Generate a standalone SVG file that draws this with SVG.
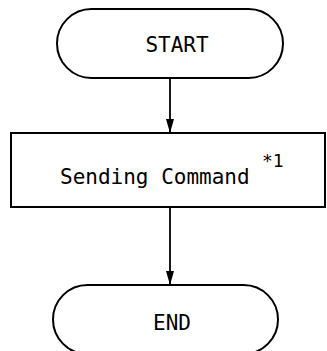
<svg xmlns="http://www.w3.org/2000/svg" width="327" height="351" viewBox="0 0 327 351">
<style>
.shape{fill:#fff;stroke:#000;stroke-width:2}
.t{font-family:"DejaVu Sans Mono","Liberation Mono",monospace;font-size:21px;fill:#000}
.line{stroke:#000;stroke-width:1.8;fill:none}
</style>
<defs>
<marker id="ah" markerWidth="14" markerHeight="10" refX="13" refY="5" orient="auto" markerUnits="userSpaceOnUse" viewBox="0 0 14 10">
<path d="M0,1 L14,5 L0,9 Z" fill="#000"/>
</marker>
</defs>
<rect width="327" height="351" fill="#fff"/>
<g id="connectors">
<line class="line" x1="170" y1="78" x2="170" y2="132" marker-end="url(#ah)"/>
<line class="line" x1="170" y1="207" x2="170" y2="284" marker-end="url(#ah)"/>
</g>
<g id="start">
<rect class="shape" x="57" y="9" width="226" height="69" rx="34.5" ry="34.5"/>
<text class="t" x="177" y="51.5" text-anchor="middle">START</text>
</g>
<g id="sending">
<rect class="shape" x="11" y="133" width="314" height="74"/>
<text class="t" x="60" y="184">Sending Command</text>
<text class="t" x="262" y="167" style="font-size:18px">*1</text>
</g>
<g id="end">
<rect class="shape" x="53" y="285" width="225" height="69" rx="34.5" ry="34.5"/>
<text class="t" x="172" y="330" text-anchor="middle">END</text>
</g>
</svg>
